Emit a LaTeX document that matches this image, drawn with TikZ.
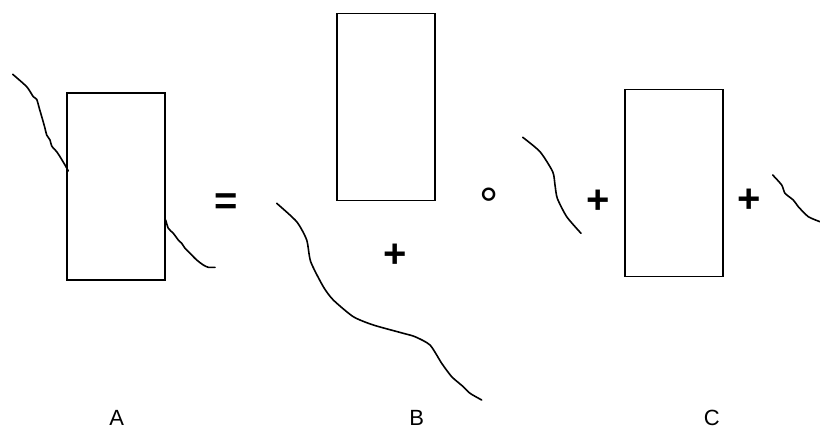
\documentclass[tikz,border=0pt]{standalone}
\usepackage{fontspec}
\setmainfont{Liberation Sans}
\begin{document}
\begin{tikzpicture}[x=1pt,y=-1pt,
  box/.style={draw, line width=1.5pt, minimum width=98pt, minimum height=187pt, inner sep=0pt},
  wig/.style={line width=1.6pt, line cap=round, line join=round},
  op/.style={font=\fontsize{40}{44}\bfseries\selectfont, inner sep=0pt},
  lab/.style={font=\fontsize{22}{25}\selectfont, inner sep=0pt}]
\useasboundingbox (0,0) rectangle (820,434);
% rectangles
\node[box] (ra) at (116,186.5) {};
\node[box] (rb) at (386,107) {};
\node[box] (rc) at (674,183) {};
% curves
\draw[wig] plot[smooth, tension=0.4] coordinates {(12.7,74.3) (26.7,86.7) (33.3,96.7) (36.7,99.3) (39.3,108.3) (42.7,120) (45,128.3) (46.7,135) (50,140) (51.7,146) (56.7,151.7) (60,156.7) (65,165) (68.3,171)};
\draw[wig] plot[smooth, tension=0.4] coordinates {(165.7,220) (168.3,228.3) (173.3,233.3) (178.3,240) (181.7,243.3) (185,248.3) (190,253.3) (196.7,260) (203.3,265) (208.3,267.3) (215,267.3)};
\draw[wig] plot[smooth, tension=0.4] coordinates {(276.7,203.3) (296.7,221.7) (306.7,240) (310.7,261.7) (323.3,286.7) (333.3,300) (353.3,316.7) (373.3,325) (403.3,333.3) (415,336.7) (430,345) (441.7,363.3) (451.7,376.7) (463.3,386.7) (470,393.3) (481.7,400)};
\draw[wig] plot[smooth, tension=0.4] coordinates {(522.7,137.3) (540,151.7) (552.7,171.7) (555,185) (557.3,198.3) (566.7,216.7) (581,233.3)};
\draw[wig] plot[smooth, tension=0.4] coordinates {(772.7,175) (781.7,185) (785,193.3) (793.3,200) (798.3,206.7) (808.3,216.7) (820,221.7)};
% operators
\node[op] (eq) at (226.5,204.5) {=};
\node[op] (p1) at (395,256) {+};
\node[op, font=\fontsize{48}{52}\selectfont] (cmp) at (489,205) {°};
\node[op] (p2) at (598.3,201.7) {+};
\node[op] (p3) at (748.8,201) {+};
% labels
\node[lab] (la) at (116.7,418) {A};
\node[lab] (lb) at (416.7,418) {B};
\node[lab] (lc) at (711.7,418) {C};
\end{tikzpicture}
\end{document}
